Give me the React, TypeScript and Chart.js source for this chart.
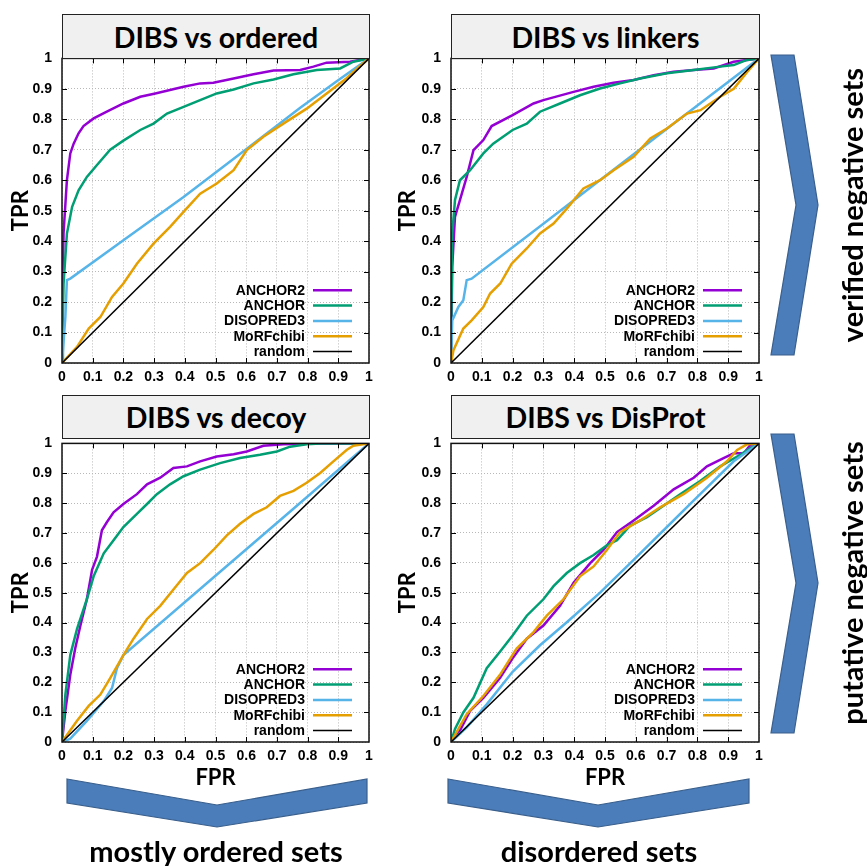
import React, { useEffect, useRef } from 'react';
import { Chart, registerables } from 'chart.js';
Chart.register(...registerables);

type P = [number, number];

const seriesNames = ['ANCHOR2', 'ANCHOR', 'DISOPRED3', 'MoRFchibi', 'random'];
const seriesColors = ['#9400d3', '#009e73', '#56b4e9', '#e69f00', '#000000'];
const tickValues = [0, 0.1, 0.2, 0.3, 0.4, 0.5, 0.6, 0.7, 0.8, 0.9, 1];
const tickLabels = ['0', '0.1', '0.2', '0.3', '0.4', '0.5', '0.6', '0.7', '0.8', '0.9', '1'];
const randomLine: P[] = [[0, 0], [1, 1]];

// DIBS vs ordered
const orderedAnchor2: P[] = [[0, 0], [0.002, 0.2], [0.005, 0.425], [0.016, 0.6], [0.027, 0.688], [0.038, 0.72], [0.054, 0.754], [0.07, 0.778], [0.103, 0.803], [0.146, 0.825], [0.2, 0.852], [0.255, 0.874], [0.304, 0.885], [0.396, 0.907], [0.45, 0.918], [0.493, 0.92], [0.559, 0.934], [0.624, 0.948], [0.689, 0.96], [0.776, 0.962], [0.819, 0.973], [0.862, 0.986], [0.938, 0.989], [1, 1]];
const orderedAnchor: P[] = [[0, 0], [0.003, 0.15], [0.005, 0.26], [0.016, 0.425], [0.033, 0.513], [0.054, 0.567], [0.081, 0.611], [0.114, 0.65], [0.157, 0.7], [0.2, 0.73], [0.255, 0.765], [0.298, 0.786], [0.342, 0.819], [0.396, 0.841], [0.45, 0.863], [0.504, 0.885], [0.559, 0.898], [0.624, 0.918], [0.689, 0.931], [0.754, 0.948], [0.83, 0.962], [0.906, 0.967], [0.949, 0.989], [1, 1]];
const orderedDisopred: P[] = [[0, 0], [0.011, 0.151], [0.016, 0.272], [0.027, 0.277], [0.2, 0.403], [0.396, 0.545], [0.602, 0.703], [0.776, 0.838], [0.895, 0.925], [1, 1]];
const orderedMorf: P[] = [[0, 0], [0.049, 0.053], [0.087, 0.113], [0.125, 0.151], [0.163, 0.217], [0.2, 0.261], [0.244, 0.326], [0.298, 0.392], [0.352, 0.447], [0.401, 0.502], [0.45, 0.556], [0.504, 0.589], [0.559, 0.633], [0.602, 0.699], [0.656, 0.743], [0.721, 0.786], [0.797, 0.835], [0.862, 0.885], [0.927, 0.935], [0.971, 0.975], [1, 1]];

// DIBS vs linkers
const linkersAnchor2: P[] = [[0, 0], [0.004, 0.315], [0.013, 0.48], [0.029, 0.535], [0.051, 0.611], [0.073, 0.699], [0.105, 0.732], [0.132, 0.778], [0.2, 0.814], [0.268, 0.852], [0.3, 0.863], [0.398, 0.89], [0.463, 0.907], [0.528, 0.92], [0.593, 0.929], [0.658, 0.945], [0.723, 0.956], [0.788, 0.962], [0.853, 0.967], [0.918, 0.989], [1, 1]];
const linkersAnchor: P[] = [[0, 0], [0.004, 0.425], [0.013, 0.535], [0.029, 0.6], [0.062, 0.633], [0.105, 0.688], [0.137, 0.72], [0.2, 0.765], [0.246, 0.786], [0.289, 0.825], [0.354, 0.852], [0.419, 0.879], [0.484, 0.901], [0.549, 0.918], [0.614, 0.934], [0.701, 0.951], [0.788, 0.962], [0.874, 0.973], [0.918, 0.978], [0.961, 0.995], [1, 1]];
const linkersDisopred: P[] = [[0, 0], [0.004, 0.14], [0.024, 0.184], [0.04, 0.206], [0.051, 0.272], [0.067, 0.277], [0.3, 0.457], [0.5, 0.613], [0.7, 0.768], [1, 1]];
const linkersMorf: P[] = [[0, 0], [0.008, 0.042], [0.04, 0.113], [0.067, 0.14], [0.105, 0.184], [0.127, 0.228], [0.16, 0.261], [0.197, 0.326], [0.246, 0.376], [0.289, 0.425], [0.333, 0.458], [0.376, 0.507], [0.43, 0.573], [0.484, 0.6], [0.528, 0.633], [0.593, 0.677], [0.647, 0.737], [0.701, 0.77], [0.766, 0.819], [0.81, 0.83], [0.874, 0.874], [0.918, 0.9], [0.961, 0.955], [1, 1]];

// DIBS vs decoy
const decoyAnchor2: P[] = [[0, 0], [0.011, 0.104], [0.027, 0.225], [0.043, 0.313], [0.06, 0.39], [0.081, 0.478], [0.098, 0.577], [0.114, 0.621], [0.13, 0.709], [0.146, 0.736], [0.168, 0.769], [0.2, 0.797], [0.244, 0.83], [0.277, 0.863], [0.32, 0.885], [0.363, 0.918], [0.407, 0.923], [0.45, 0.94], [0.504, 0.956], [0.559, 0.964], [0.602, 0.973], [0.656, 0.992], [0.721, 0.997], [0.83, 1], [1, 1]];
const decoyAnchor: P[] = [[0, 0], [0.011, 0.159], [0.027, 0.291], [0.049, 0.379], [0.081, 0.478], [0.103, 0.555], [0.136, 0.632], [0.168, 0.676], [0.2, 0.72], [0.244, 0.764], [0.277, 0.797], [0.309, 0.83], [0.352, 0.863], [0.396, 0.89], [0.45, 0.912], [0.515, 0.934], [0.58, 0.951], [0.645, 0.962], [0.7, 0.973], [0.743, 0.989], [0.797, 0.997], [0.841, 1], [1, 1]];
const decoyDisopred: P[] = [[0, 0], [0.027, 0.011], [0.081, 0.071], [0.136, 0.137], [0.163, 0.181], [0.179, 0.247], [0.2, 0.291], [0.5, 0.557], [0.75, 0.778], [1, 1]];
const decoyMorf: P[] = [[0, 0], [0.049, 0.071], [0.087, 0.121], [0.125, 0.159], [0.157, 0.214], [0.2, 0.291], [0.233, 0.346], [0.277, 0.412], [0.32, 0.456], [0.363, 0.511], [0.407, 0.566], [0.45, 0.599], [0.493, 0.643], [0.537, 0.692], [0.58, 0.731], [0.624, 0.764], [0.667, 0.786], [0.71, 0.824], [0.754, 0.841], [0.797, 0.868], [0.841, 0.901], [0.884, 0.94], [0.927, 0.978], [0.949, 0.992], [0.98, 0.997], [1, 1]];

// DIBS vs DisProt
const disprotAnchor2: P[] = [[0, 0], [0.029, 0.038], [0.062, 0.104], [0.105, 0.148], [0.159, 0.214], [0.2, 0.28], [0.246, 0.346], [0.3, 0.39], [0.354, 0.456], [0.398, 0.533], [0.452, 0.599], [0.495, 0.643], [0.539, 0.703], [0.593, 0.742], [0.658, 0.791], [0.723, 0.846], [0.788, 0.885], [0.831, 0.923], [0.885, 0.951], [0.918, 0.967], [0.951, 0.967], [0.972, 0.995], [1, 1]];
const disprotAnchor: P[] = [[0, 0], [0.013, 0.044], [0.04, 0.099], [0.073, 0.148], [0.116, 0.247], [0.159, 0.302], [0.2, 0.357], [0.246, 0.423], [0.3, 0.478], [0.333, 0.522], [0.376, 0.566], [0.419, 0.599], [0.463, 0.626], [0.506, 0.659], [0.539, 0.676], [0.582, 0.725], [0.636, 0.753], [0.69, 0.791], [0.744, 0.83], [0.809, 0.874], [0.874, 0.923], [0.939, 0.962], [0.972, 0.984], [1, 1]];
const disprotDisopred: P[] = [[0, 0], [0.051, 0.049], [0.116, 0.126], [0.2, 0.235], [0.289, 0.324], [0.376, 0.401], [0.484, 0.5], [0.593, 0.61], [0.701, 0.72], [0.809, 0.83], [0.918, 0.94], [1, 1]];
const disprotMorf: P[] = [[0, 0], [0.051, 0.093], [0.105, 0.154], [0.159, 0.225], [0.213, 0.313], [0.268, 0.368], [0.311, 0.423], [0.365, 0.478], [0.419, 0.555], [0.463, 0.588], [0.506, 0.643], [0.549, 0.703], [0.614, 0.742], [0.679, 0.786], [0.755, 0.83], [0.831, 0.885], [0.896, 0.94], [0.929, 0.978], [0.961, 0.997], [1, 1]];

const panelTitles = ['DIBS vs ordered', 'DIBS vs linkers', 'DIBS vs decoy', 'DIBS vs DisProt'];
const panelCurves: P[][][] = [
  [orderedAnchor2, orderedAnchor, orderedDisopred, orderedMorf, randomLine],
  [linkersAnchor2, linkersAnchor, linkersDisopred, linkersMorf, randomLine],
  [decoyAnchor2, decoyAnchor, decoyDisopred, decoyMorf, randomLine],
  [disprotAnchor2, disprotAnchor, disprotDisopred, disprotMorf, randomLine],
];
const sideLabels = ['verified negative sets', 'putative negative sets'];
const bottomLabels = ['mostly ordered sets', 'disordered sets'];

const TICK_FONT = { family: '"Liberation Sans", Arial, sans-serif', size: 14, weight: 'bold' as const };

const framePlugin = {
  id: 'gnuFrame',
  afterDatasetsDraw(chart: any) {
    const { ctx, chartArea: a, scales } = chart;
    ctx.save();
    ctx.strokeStyle = '#000';
    ctx.lineWidth = 1;
    ctx.setLineDash([]);
    const tl = 5;
    for (const v of tickValues) {
      if (v === 0 || v === 1) continue;
      const x = Math.round(scales.x.getPixelForValue(v)) + 0.5;
      const y = Math.round(scales.y.getPixelForValue(v)) + 0.5;
      ctx.beginPath();
      ctx.moveTo(x, a.bottom); ctx.lineTo(x, a.bottom - tl);
      ctx.moveTo(x, a.top); ctx.lineTo(x, a.top + tl);
      ctx.moveTo(a.left, y); ctx.lineTo(a.left + tl, y);
      ctx.moveTo(a.right, y); ctx.lineTo(a.right - tl, y);
      ctx.stroke();
    }
    ctx.lineWidth = 1.5;
    ctx.strokeStyle = '#111';
    ctx.strokeRect(a.left, a.top, a.right - a.left, a.bottom - a.top);
    // legend
    ctx.font = 'bold 14px "Liberation Sans", Arial, sans-serif';
    ctx.textAlign = 'right';
    ctx.textBaseline = 'middle';
    ctx.fillStyle = '#000';
    for (let i = 0; i < seriesNames.length; i++) {
      const y = a.bottom - 11.5 - (seriesNames.length - 1 - i) * 15.3;
      ctx.fillText(seriesNames[i], a.right - 64, y + 0.5);
      ctx.beginPath();
      ctx.strokeStyle = seriesColors[i];
      ctx.lineWidth = i === 4 ? 1.5 : 2.5;
      ctx.moveTo(a.right - 56, y);
      ctx.lineTo(a.right - 17, y);
      ctx.stroke();
    }
    ctx.restore();
  },
};

interface PanelProps {
  idx: number;
  left: number;
  top: number;
  width: number;
  height: number;
  padTop: number;
  padRight: number;
  yWidth: number;
  xHeight: number;
  yTitlePad: number;
  showX: boolean;
}

function RocPanel(p: PanelProps) {
  const ref = useRef<HTMLCanvasElement>(null);
  useEffect(() => {
    const curves = panelCurves[p.idx];
    const chart = new Chart(ref.current as HTMLCanvasElement, {
      type: 'scatter',
      data: {
        datasets: seriesNames.map((name, i) => ({
          label: name,
          data: curves[i].map(([x, y]) => ({ x, y })),
          showLine: true,
          pointRadius: 0,
          borderColor: seriesColors[i],
          backgroundColor: seriesColors[i],
          borderWidth: i === 4 ? 1.5 : 2.5,
          tension: 0,
          fill: false,
          order: seriesNames.length - 1 - i,
        })),
      },
      options: {
        responsive: false,
        animation: false,
        devicePixelRatio: 1,
        layout: { padding: { top: p.padTop, right: p.padRight, left: 0, bottom: 0 } },
        plugins: { legend: { display: false }, tooltip: { enabled: false } },
        scales: {
          x: {
            type: 'linear',
            min: 0,
            max: 1,
            afterBuildTicks: (s: any) => { s.ticks = tickValues.map((v) => ({ value: v })); },
            afterFit: (s: any) => { s.height = p.xHeight; },
            ticks: {
              callback: (_v: any, i: number) => tickLabels[i],
              font: TICK_FONT,
              color: '#000',
              padding: 6,
              maxRotation: 0,
              autoSkip: false,
            },
            grid: { color: '#b8b8b8', lineWidth: 1, drawTicks: false },
            border: { display: false, dash: [1, 2] },
            title: {
              display: p.showX,
              text: 'FPR',
              color: '#000',
              font: { family: 'Lato, sans-serif', size: 22, weight: 'bold' },
              padding: { top: 0, bottom: 4 },
            },
          },
          y: {
            type: 'linear',
            min: 0,
            max: 1,
            afterBuildTicks: (s: any) => { s.ticks = tickValues.map((v) => ({ value: v })); },
            afterFit: (s: any) => { s.width = p.yWidth; },
            ticks: {
              callback: (_v: any, i: number) => tickLabels[i],
              font: TICK_FONT,
              color: '#000',
              padding: 10,
              autoSkip: false,
            },
            grid: { color: '#b8b8b8', lineWidth: 1, drawTicks: false },
            border: { display: false, dash: [1, 2] },
            title: {
              display: true,
              text: 'TPR',
              color: '#000',
              font: { family: 'Lato, sans-serif', size: 22, weight: 'bold' },
              padding: { top: p.yTitlePad, bottom: 0 },
            },
          },
        },
      },
      plugins: [framePlugin],
    } as any);
    return () => chart.destroy();
  }, []);
  return (
    <canvas
      ref={ref}
      width={p.width}
      height={p.height}
      style={{ position: 'absolute', left: p.left, top: p.top, width: p.width, height: p.height }}
    />
  );
}

const titleBox = (left: number, top: number, width: number, height: number, text: string) => (
  <div
    key={text}
    style={{
      position: 'absolute',
      left,
      top,
      width,
      height,
      boxSizing: 'border-box',
      border: '1.5px solid #222',
      background: '#f0f0f0',
      display: 'flex',
      alignItems: 'center',
      justifyContent: 'center',
      fontFamily: 'Lato, sans-serif',
      fontWeight: 'bold',
      fontSize: 28.5,
      color: '#000',
      whiteSpace: 'nowrap',
    }}
  >
    {text}
  </div>
);

export default function App() {
  const arrowFill = '#4a7dba';
  const arrowStroke = '#3a5f8c';
  return (
    <div
      style={{
        position: 'fixed',
        left: 0,
        top: 0,
        width: 867,
        height: 866,
        overflow: 'hidden',
        background: '#fff',
      }}
    >
      <RocPanel idx={0} left={0} top={40} width={400} height={350} padTop={18} padRight={31} yWidth={62} xHeight={27} yTitlePad={8} showX={false} />
      <RocPanel idx={1} left={388} top={40} width={400} height={350} padTop={18} padRight={29} yWidth={63} xHeight={27} yTitlePad={7} showX={false} />
      <RocPanel idx={2} left={0} top={425} width={400} height={370} padTop={13} padRight={31} yWidth={62} xHeight={53} yTitlePad={8} showX={true} />
      <RocPanel idx={3} left={388} top={425} width={400} height={370} padTop={13} padRight={29} yWidth={63} xHeight={53} yTitlePad={7} showX={true} />
      {titleBox(62, 14, 308, 45, panelTitles[0])}
      {titleBox(451, 14, 309, 45, panelTitles[1])}
      {titleBox(62, 395, 308, 44, panelTitles[2])}
      {titleBox(451, 395, 309, 44, panelTitles[3])}
      <svg width={867} height={866} style={{ position: 'absolute', left: 0, top: 0 }}>
        <polygon points="771,55 794,55 818,205 794,355 771,355 796,205" fill={arrowFill} stroke={arrowStroke} strokeWidth={1.2} />
        <polygon points="771,434 794,434 818,583 794,733 771,733 796,583" fill={arrowFill} stroke={arrowStroke} strokeWidth={1.2} />
        <polygon points="67,779 217,805 367,779 367,803 217,827 67,803" fill={arrowFill} stroke={arrowStroke} strokeWidth={1.2} />
        <polygon points="448,779 598,805 749,779 749,803 598,827 448,803" fill={arrowFill} stroke={arrowStroke} strokeWidth={1.2} />
      </svg>
      {[205, 583].map((cy, i) => (
        <div
          key={sideLabels[i]}
          style={{
            position: 'absolute',
            left: 851,
            top: cy,
            transform: 'translate(-50%, -50%) rotate(-90deg)',
            fontFamily: 'Lato, sans-serif',
            fontWeight: 'bold',
            fontSize: 29,
            lineHeight: 1,
            whiteSpace: 'nowrap',
            color: '#000',
          }}
        >
          {sideLabels[i]}
        </div>
      ))}
      {[216, 599].map((cx, i) => (
        <div
          key={bottomLabels[i]}
          style={{
            position: 'absolute',
            left: cx,
            top: 836,
            transform: 'translateX(-50%)',
            fontFamily: 'Lato, sans-serif',
            fontWeight: 'bold',
            fontSize: 29,
            lineHeight: 1,
            whiteSpace: 'nowrap',
            color: '#000',
          }}
        >
          {bottomLabels[i]}
        </div>
      ))}
    </div>
  );
}
